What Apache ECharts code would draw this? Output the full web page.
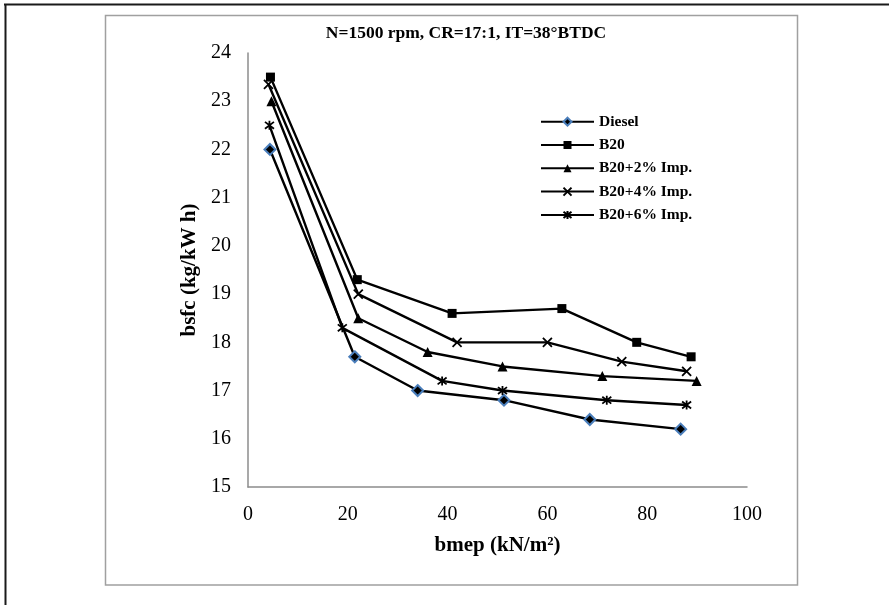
<!DOCTYPE html>
<html>
<head>
<meta charset="utf-8">
<script src="https://cdn.jsdelivr.net/npm/echarts@6/dist/echarts.min.js"></script>
<style>html,body{margin:0;padding:0;background:#fff}#c{width:889px;height:605px}</style>
</head>
<body>
<div id="c"></div>
<script>
const seriesNames = ['Diesel', 'B20', 'B20+2% Imp.', 'B20+4% Imp.', 'B20+6% Imp.'];
const diesel = [[4.4,22.0],[21.4,17.7],[34.0,17.0],[51.3,16.8],[68.5,16.4],[86.7,16.2]];
const b20 = [[4.5,23.5],[21.9,19.3],[40.9,18.6],[62.9,18.7],[77.9,18.0],[88.8,17.7]];
const b20imp2 = [[4.7,23.0],[22.1,18.5],[36.0,17.8],[51.0,17.5],[71.0,17.3],[89.9,17.2]];
const b20imp4 = [[4.1,23.35],[22.1,19.0],[41.9,18.0],[60.0,18.0],[74.9,17.6],[87.9,17.4]];
const b20imp6 = [[4.3,22.5],[18.9,18.3],[38.9,17.2],[51.0,17.0],[71.9,16.8],[87.9,16.7]];
const xTicks = [0, 20, 40, 60, 80, 100];
const yTicks = [15, 16, 17, 18, 19, 20, 21, 22, 23, 24];

const FONT = 'Liberation Serif';
const chart = echarts.init(document.getElementById('c'), null, {renderer: 'canvas'});

function mk(name, data, symbol, size, extra) {
  return Object.assign({
    name: name,
    type: 'line',
    data: data,
    symbol: symbol,
    symbolSize: size,
    showSymbol: true,
    lineStyle: {color: '#000', width: 2.4},
    itemStyle: {color: '#000', borderColor: '#000', borderWidth: 0},
    emphasis: {disabled: true},
    animation: false,
    z: 3
  }, extra || {});
}

const xPath = 'path://M0,0L10,10M10,0L0,10';
const starPath = 'path://M0,0L10,10M10,0L0,10M5,-1.5L5,11.5';

chart.setOption({
  animation: false,
  graphic: [
    {type: 'line', shape: {x1: 4, y1: 4.5, x2: 889, y2: 4.5}, style: {stroke: '#1a1a1a', lineWidth: 2}, silent: true},
    {type: 'line', shape: {x1: 5.5, y1: 4, x2: 5.5, y2: 605}, style: {stroke: '#1a1a1a', lineWidth: 2}, silent: true},
    {type: 'rect', shape: {x: 105.5, y: 15.5, width: 692, height: 569.5}, style: {fill: 'none', stroke: '#a0a0a0', lineWidth: 1.5}, silent: true},
    {type: 'text', x: 466, y: 33, style: {text: 'N=1500 rpm, CR=17:1, IT=38°BTDC', font: 'bold 17.5px "Liberation Serif"', fill: '#000', align: 'center', verticalAlign: 'middle'}, silent: true}
  ],
  grid: {left: 248, top: 53, width: 499, height: 434, containLabel: false},
  legend: {
    orient: 'vertical',
    left: 540,
    top: 113.2,
    padding: 0,
    itemGap: 6.3,
    itemWidth: 53,
    itemHeight: 10,
    data: seriesNames,
    textStyle: {fontFamily: FONT, fontWeight: 'bold', fontSize: 15.5, lineHeight: 17, color: '#000'}
  },
  xAxis: {
    type: 'value',
    min: xTicks[0],
    max: xTicks[xTicks.length - 1],
    interval: 20,
    name: 'bmep (kN/m²)',
    nameLocation: 'middle',
    nameGap: 48.5,
    nameTextStyle: {fontFamily: FONT, fontWeight: 'bold', fontSize: 21, color: '#000'},
    axisLine: {show: true, lineStyle: {color: '#8c8c8c', width: 1.5}},
    axisTick: {show: false},
    splitLine: {show: false},
    axisLabel: {fontFamily: FONT, fontSize: 20, color: '#000', margin: 18}
  },
  yAxis: {
    type: 'value',
    min: yTicks[0],
    max: yTicks[yTicks.length - 1],
    interval: 1,
    name: 'bsfc (kg/kW h)',
    nameLocation: 'middle',
    nameGap: 47.5,
    nameRotate: 90,
    nameTextStyle: {fontFamily: FONT, fontWeight: 'bold', fontSize: 21, color: '#000'},
    axisLine: {show: true, lineStyle: {color: '#8c8c8c', width: 1.5}},
    axisTick: {show: false},
    splitLine: {show: false},
    axisLabel: {fontFamily: FONT, fontSize: 20, color: '#000', margin: 17}
  },
  series: [
    mk(seriesNames[0], diesel, 'diamond', 11, {itemStyle: {color: '#000', borderColor: '#4a7ebb', borderWidth: 2}}),
    mk(seriesNames[1], b20, 'rect', 9),
    mk(seriesNames[2], b20imp2, 'triangle', 10),
    mk(seriesNames[3], b20imp4, xPath, 9, {itemStyle: {color: '#000', borderColor: '#000', borderWidth: 1.8}}),
    mk(seriesNames[4], b20imp6, starPath, 9, {itemStyle: {color: '#000', borderColor: '#000', borderWidth: 1.8}})
  ]
});
</script>
</body>
</html>
